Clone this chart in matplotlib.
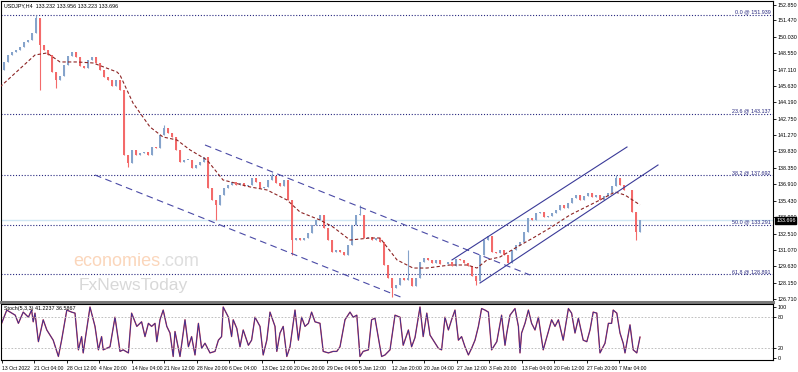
import matplotlib
matplotlib.use('Agg')
import matplotlib.pyplot as plt
import matplotlib.transforms as mtransforms

plt.rcParams['font.family'] = ['Liberation Sans', 'DejaVu Sans']

# USDJPY H4, candles grouped ~5 H4 bars each, closes
first_open = 146.60
closes = [147.07, 147.78, 148.40, 148.67, 148.85, 149.11, 149.56, 149.73, 150.36, 151.69,
          149.29, 148.85, 148.40, 146.89, 146.18, 146.53, 147.51, 148.31, 148.67, 148.22,
          147.42, 147.25, 147.96, 148.22, 147.69, 147.07, 146.45, 146.18, 145.65, 146.18,
          145.29, 139.51, 138.80, 139.96, 139.51, 139.69, 139.78, 139.51, 140.22, 140.13,
          141.29, 141.91, 141.47, 141.11, 139.96, 138.89, 139.07, 139.07, 138.35, 138.62,
          138.89, 139.33, 136.58, 135.51, 135.07, 135.95, 136.58, 136.84, 137.11, 136.84,
          137.02, 136.75, 136.84, 137.47, 137.11, 136.58, 136.67, 137.29, 137.64, 137.02,
          136.75, 137.29, 135.51, 131.95, 132.13, 131.95, 132.13, 132.58, 133.29, 133.73,
          134.18, 133.02, 131.95, 130.89, 131.07, 130.89, 130.62, 131.51, 133.29, 134.18,
          134.18, 132.13, 132.22, 131.95, 132.13, 131.78, 129.73, 128.58, 127.69, 127.95,
          128.58, 128.40, 128.58, 127.86, 128.58, 130.00, 130.35, 130.18, 129.91, 130.18,
          129.82, 129.82, 130.00, 129.64, 130.26, 130.18, 129.91, 129.64, 128.75, 128.31,
          130.62, 131.95, 132.31, 130.89, 130.80, 131.07, 130.62, 129.91, 131.07, 131.51,
          131.78, 132.67, 133.91, 133.73, 134.35, 134.44, 134.00, 134.09, 134.35, 134.62,
          135.07, 134.80, 135.24, 135.69, 135.95, 135.51, 135.87, 136.13, 135.78, 135.95,
          135.51, 135.87, 136.13, 136.75, 137.47, 136.84, 136.40, 136.40, 134.44, 132.67,
          133.70]
# notable wicks (candle number -> price)
wick_high = {9: 151.94, 41: 142.18, 68: 137.90, 90: 135.07, 102: 131.07, 154: 137.73}
wick_low = {10: 145.29, 14: 145.47, 32: 138.44, 54: 133.73, 73: 130.62, 98: 126.89,
            119: 127.95, 159: 131.95}

# moving average (dashed), candle number / price
ma_t = [0, 8.75, 11.75, 15, 19.25, 23.25, 29.25, 30, 33.25, 37.5, 40.75, 44.25, 47.5,
        51.75, 55.75, 62.5, 66.75, 71.75, 75, 80, 83.25, 87.5, 92.5, 95, 99.25, 103.25,
        106.75, 112.5, 116.75, 119.25, 121.75, 125, 129.25, 133.25, 137.5, 142.5, 150,
        153.75, 156.25, 160]
ma_p = [145.56, 148.40, 148.58, 147.78, 147.78, 147.69, 146.89, 146.62, 144.13, 142.00,
        141.11, 140.84, 139.96, 139.07, 137.29, 136.67, 136.40, 135.51, 134.44, 133.73,
        133.11, 131.95, 132.13, 132.13, 130.18, 129.46, 129.46, 129.73, 129.73, 129.46,
        130.18, 130.44, 131.33, 132.13, 133.02, 134.18, 135.51, 136.22, 135.95, 135.07]

# trend channels: (t0, p0, t1, p1)
desc_channel = [(51.25, 140.40, 132.5, 128.84), (23.75, 137.73, 100.75, 126.80)]
asc_channel = [(113, 130.18, 156.75, 140.22), (120, 128.13, 164.5, 138.62)]

fib_levels = [151.939, 143.137, 137.692, 133.291, 128.891]
fib_names = ['0.0', '23.6', '38.2', '50.0', '61.8']
last_price = 133.696
price_ticks = [152.850, 151.470, 150.030, 148.550, 147.110, 145.630, 144.190, 142.750,
               141.270, 139.830, 138.350, 136.910, 135.430, 133.990, 132.510, 131.070,
               129.630, 128.150, 126.710]

# stochastic %K, candle number / value
stoch_t = [0.4, 1.7, 3.8, 4.6, 5.8, 7.1, 7.9, 8.3, 8.75, 9.6, 10.8, 11.7, 13.3, 14.6, 15.4,
           16.7, 17.9, 18.75, 19.6, 20.4, 20.8, 22.5, 23.75, 24.6, 25.4, 25.8, 27.5, 28.75,
           30, 30.8, 32.1, 32.9, 34.2, 35.4, 36.25, 37.1, 37.9, 38.75, 39.2, 40, 40.8, 41.7,
           42.5, 43.3, 43.75, 45, 46.25, 47.1, 47.9, 48.75, 49.6, 50.4, 51.25, 52.5, 53.75,
           54.6, 55.4, 55.8, 57.1, 57.9, 58.3, 59.2, 60, 60.8, 62.1, 62.9, 63.75, 65, 65.8,
           66.7, 67.5, 68.75, 69.2, 70, 70.8, 71.7, 72.5, 73.75, 74.6, 75.4, 76.25, 77.1,
           77.9, 78.75, 80, 80.8, 82.1, 83.3, 84.2, 85, 86.25, 87.5, 88.3, 89.2, 90, 90.8,
           92.1, 92.9, 93.75, 95.4, 96.25, 97.5, 98.75, 100, 100.8, 102.1, 102.9, 103.75,
           105, 105.8, 106.7, 107.5, 108.3, 109.6, 110.4, 111.25, 112.1, 112.9, 113.75,
           114.6, 115.4, 116.25, 117.1, 117.9, 118.75, 119.6, 120.4, 121.25, 122.1, 122.9,
           124.2, 125.4, 126.25, 126.7, 127.5, 128.75, 129.6, 130, 130.4, 131.25, 132.1,
           132.9, 133.75, 134.6, 135.8, 137.1, 137.9, 138.75, 139.6, 140.8, 142.1, 142.9,
           143.75, 144.6, 145.4, 145.8, 146.7, 147.5, 148.3, 149.2, 150, 151.25, 152.1,
           152.9, 153.3, 154.2, 155, 155.8, 156.25, 157.5, 158.3, 159.2, 160]
stoch_k = [68, 94, 84, 68, 90, 80, 94, 71, 88, 32, 75, 55, 35, 3, 35, 94, 90, 88, 16, 42, 10,
           100, 62, 16, 42, 16, 22, 80, 13, 16, 10, 88, 62, 71, 42, 68, 62, 68, 32, 75, 94,
           62, 49, 3, 52, 3, 75, 22, 42, 6, 68, 19, 29, 10, 13, 35, 42, 100, 80, 42, 75, 58,
           22, 55, 25, 35, 80, 62, 6, 35, 90, 62, 13, 49, 62, 3, 22, 94, 35, 80, 62, 68, 90,
           71, 68, 13, 10, 13, 13, 22, 75, 90, 80, 84, 3, 13, 16, 75, 78, 3, 6, 16, 84, 80,
           25, 55, 22, 40, 100, 42, 88, 45, 35, 19, 16, 80, 55, 75, 94, 35, 42, 22, 6, 19, 35,
           62, 97, 94, 90, 16, 32, 84, 25, 49, 84, 97, 62, 10, 49, 68, 94, 68, 55, 80, 16, 52,
           75, 62, 75, 35, 97, 88, 49, 78, 49, 35, 32, 55, 90, 88, 10, 29, 68, 68, 94, 88, 49,
           29, 10, 65, 16, 10, 41]

date_labels = ['13 Oct 2022', '21 Oct 04:00', '28 Oct 12:00', '4 Nov 20:00', '14 Nov 04:00',
               '21 Nov 12:00', '28 Nov 20:00', '6 Dec 04:00', '13 Dec 12:00', '20 Dec 20:00',
               '29 Dec 04:00', '5 Jan 12:00', '12 Jan 20:00', '20 Jan 04:00', '27 Jan 12:00',
               '3 Feb 20:00', '13 Feb 04:00', '20 Feb 12:00', '27 Feb 20:00', '7 Mar 04:00']

UP = '#85a3cb'
DOWN = '#f36a6a'
FIB = '#27277f'
fs = 3.9

fig = plt.figure(figsize=(7.98, 3.72), dpi=100)
ax = fig.add_axes([1 / 798, 1 - 302 / 372, 772 / 798, 301 / 372])
ax2 = fig.add_axes([1 / 798, 1 - 360 / 372, 772 / 798, 56 / 372])

# candles
opens = [first_open] + closes[:-1]
for i, (o, c) in enumerate(zip(opens, closes)):
    col = UP if c >= o else DOWN
    hi = wick_high.get(i, max(o, c))
    lo = wick_low.get(i, min(o, c))
    ax.vlines(i, lo, hi, color=col, lw=0.8, zorder=3)
    ax.bar(i, max(abs(c - o), 0.04), bottom=min(o, c), width=0.7, color=col,
           linewidth=0, zorder=3)

ax.plot(ma_t, ma_p, color='#8c2323', lw=0.8, ls=(0, (3, 2)), zorder=4)

for t0, p0, t1, p1 in desc_channel:
    ax.plot([t0, t1], [p0, p1], color='#4a4aa6', lw=0.8, ls=(0, (6, 4)), zorder=4)
for t0, p0, t1, p1 in asc_channel:
    ax.plot([t0, t1], [p0, p1], color='#3a3a98', lw=0.8, zorder=4)

# fibonacci levels
for lvl, name in zip(fib_levels, fib_names):
    ax.axhline(lvl, color=FIB, lw=0.8, ls=(0, (1, 1.6)), zorder=2)
    ax.text(0.9965, lvl + 0.05, f'{name} @ {lvl:.3f}', transform=ax.get_yaxis_transform(),
            ha='right', va='bottom', fontsize=fs, color=FIB, zorder=5)

ax.axhline(last_price, color='#cfe6f3', lw=1.0, zorder=1)

# watermark
wm = ax.text(0.093, 0.107, 'economies', transform=ax.transAxes, fontsize=13,
             color='#fbd6bb', ha='left', va='bottom', zorder=1)
ax.annotate('.com', xy=(1, 0), xycoords=wm, fontsize=13, color='#dedede',
            ha='left', va='bottom', zorder=1)
ax.text(0.100, 0.04, 'FxNewsToday', transform=ax.transAxes, fontsize=12.5,
        color='#d8d8d8', ha='left', va='baseline', zorder=1)

ax.text(0.004, 0.993, 'USDJPY,H4  133.232 133.956 133.223 133.696', transform=ax.transAxes,
        fontsize=fs, ha='left', va='top', color='black')

ax.set_xlim(0.25, 193.25)
ax.set_ylim(126.44, 153.20)
ax.yaxis.tick_right()
ax.set_yticks(price_ticks)
ax.set_yticklabels([f'{v:.3f}' for v in price_ticks])
ax.tick_params(axis='y', labelsize=fs, length=2.5, width=0.6, pad=1)
ax.set_xticks([])
for s in ax.spines.values():
    s.set_linewidth(0.8)
ax.spines['bottom'].set_linewidth(2.2)
ax.spines['bottom'].set_color('#7a7a7a')

trans = mtransforms.blended_transform_factory(ax.transAxes, ax.transData)
ax.text(1.004, last_price, f'{last_price:.3f}', transform=trans, fontsize=fs,
        color='white', ha='left', va='center',
        bbox=dict(boxstyle='square,pad=0.15', fc='black', ec='black'), zorder=6)

# stochastic panel
ax2.plot(stoch_t, stoch_k, color='#e24a4a', lw=1.0)
ax2.plot(stoch_t, stoch_k, color='#2e2e9a', lw=0.6)
for lv in (80, 20):
    ax2.axhline(lv, color='#b5b5b5', lw=0.6, ls=(0, (2, 2)))
ax2.set_xlim(0.25, 193.25)
ax2.set_ylim(-3.9, 105.9)
ax2.yaxis.tick_right()
ax2.set_yticks([0, 20, 80, 100])
ax2.tick_params(axis='y', labelsize=fs, length=2.5, width=0.6, pad=1)
tick_t = [0.5 + 8.125 * j for j in range(len(date_labels))]
ax2.set_xticks(tick_t)
ax2.set_xticklabels(date_labels, ha='left')
ax2.tick_params(axis='x', labelsize=3.7, length=2.5, width=0.6, pad=1.5)
for s in ax2.spines.values():
    s.set_linewidth(0.8)
ax2.text(0.004, 0.97, 'Stoch(5,3,3) 41.2237 36.5867', transform=ax2.transAxes,
         fontsize=fs, ha='left', va='top')

fig.savefig('out.png', dpi=100)
